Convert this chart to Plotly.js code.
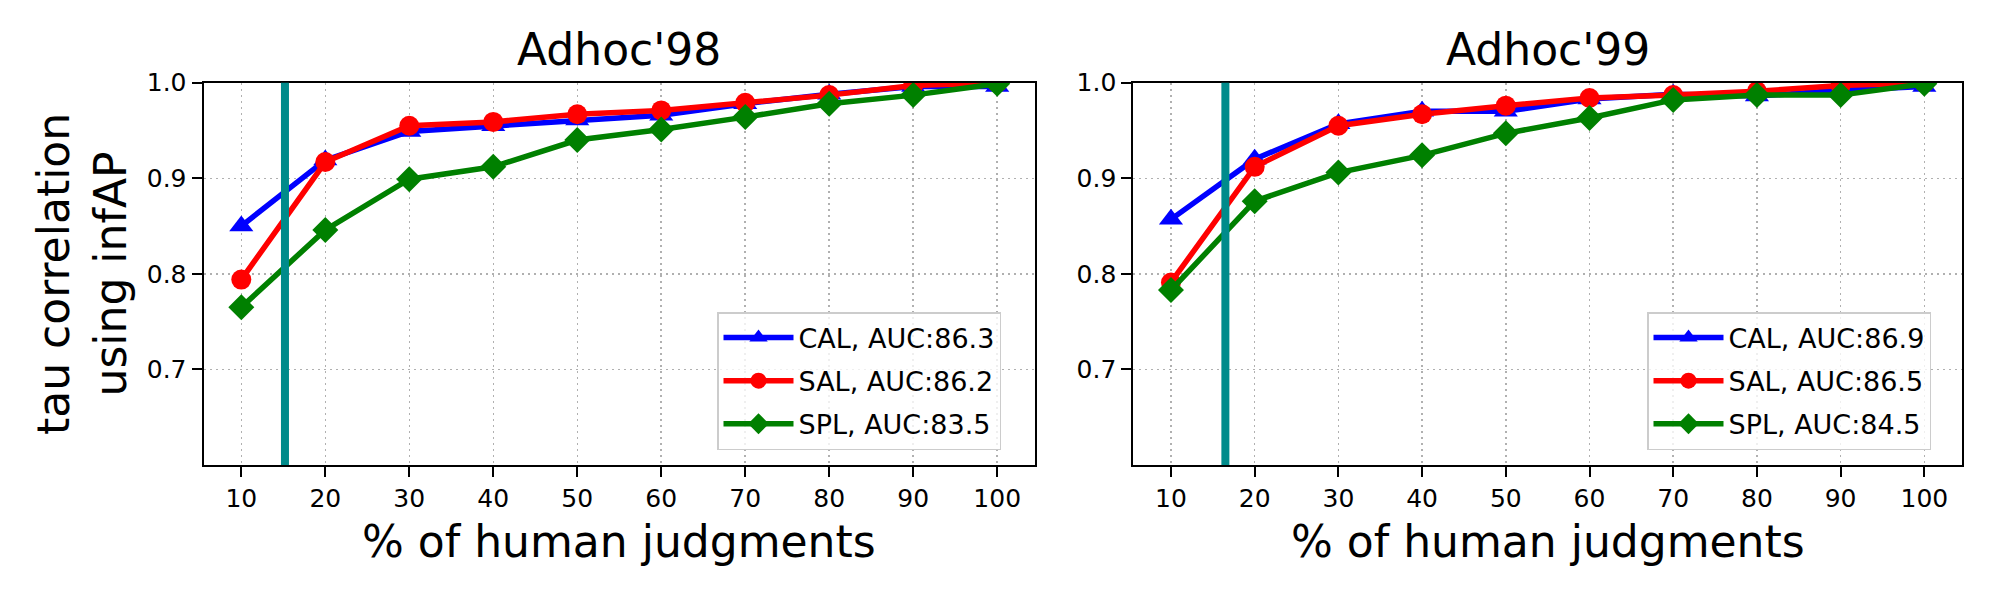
<!DOCTYPE html>
<html>
<head>
<meta charset="utf-8">
<script src="https://cdn.plot.ly/plotly-3.0.1.min.js"></script>
<style>
  html, body { margin: 0; padding: 0; background: #ffffff; }
  #chart { width: 2000px; height: 600px; }
</style>
</head>
<body>
<div id="chart"></div>
<script>
// % of human judgments
var pct = [10, 20, 30, 40, 50, 60, 70, 80, 90, 100];

// Adhoc'98
var cal98 = [0.850, 0.919, 0.949, 0.955, 0.961, 0.966, 0.978, 0.988, 0.996, 0.996];
var sal98 = [0.794, 0.917, 0.955, 0.959, 0.967, 0.971, 0.979, 0.987, 0.997, 1.000];
var spl98 = [0.765, 0.846, 0.899, 0.912, 0.940, 0.951, 0.964, 0.978, 0.987, 0.999];

// Adhoc'99
var cal99 = [0.857, 0.920, 0.957, 0.970, 0.970, 0.983, 0.988, 0.986, 0.992, 0.996];
var sal99 = [0.791, 0.912, 0.955, 0.967, 0.976, 0.984, 0.987, 0.991, 0.997, 1.000];
var spl99 = [0.783, 0.876, 0.906, 0.924, 0.947, 0.963, 0.982, 0.987, 0.987, 0.999];

var names98 = ['CAL, AUC:86.3', 'SAL, AUC:86.2', 'SPL, AUC:83.5'];
var names99 = ['CAL, AUC:86.9', 'SAL, AUC:86.5', 'SPL, AUC:84.5'];
var panelTitles = ["Adhoc'98", "Adhoc'99"];
var cutoffs = [15.2, 16.5];

var FONT = 'DejaVu Sans';
var colors = ['#0000ff', '#ff0000', '#008000'];
var symbols = ['triangle-up', 'circle', 'diamond'];
var sizes = [21, 20, 20];

function series(y, i, name, xa, ya, leg) {
  return {
    x: pct, y: y, name: name,
    xaxis: xa, yaxis: ya, legend: leg, legendgroup: leg + i,
    mode: 'lines+markers',
    line: { color: colors[i], width: 5.5 },
    marker: { symbol: symbols[i], size: sizes[i], color: colors[i] }
  };
}

var data = [
  series(cal98, 0, names98[0], 'x', 'y', 'legend'),
  series(sal98, 1, names98[1], 'x', 'y', 'legend'),
  series(spl98, 2, names98[2], 'x', 'y', 'legend'),
  series(cal99, 0, names99[0], 'x2', 'y2', 'legend2'),
  series(sal99, 1, names99[1], 'x2', 'y2', 'legend2'),
  series(spl99, 2, names99[2], 'x2', 'y2', 'legend2')
];

function xAxis(domain, anchor) {
  return {
    domain: domain, anchor: anchor, range: [5.5, 104.5],
    tickvals: pct, ticks: 'outside', ticklen: 10, tickwidth: 2, tickcolor: '#000',
    showline: true, linecolor: '#000', linewidth: 2, mirror: true,
    showgrid: true, gridcolor: '#b0b0b0', gridwidth: 1.5, griddash: '2px,4px',
    zeroline: false,
    tickfont: { family: FONT, size: 25, color: '#000' }
  };
}
function yAxis(domain, anchor) {
  return {
    domain: domain, anchor: anchor, range: [0.6, 1.0],
    tickvals: [0.7, 0.8, 0.9, 1.0], tickformat: '.1f',
    ticks: 'outside', ticklen: 10, tickwidth: 2, tickcolor: '#000',
    showline: true, linecolor: '#000', linewidth: 2, mirror: true,
    showgrid: true, gridcolor: '#b0b0b0', gridwidth: 1.5, griddash: '2px,4px',
    zeroline: false,
    tickfont: { family: FONT, size: 25, color: '#000' }
  };
}
function legendBox(xr) {
  return {
    x: xr, y: 0.25, xanchor: 'right', yanchor: 'bottom',
    bgcolor: 'rgba(255,255,255,0.8)', bordercolor: '#cccccc', borderwidth: 1.5,
    font: { family: FONT, size: 27, color: '#000' },
    itemwidth: 70, tracegroupgap: 5
  };
}

var dom1 = [203.5 / 2000, 1035 / 2000];
var dom2 = [1133.3 / 2000, 1962 / 2000];
var ydom = [135 / 600, 517.3 / 600];

function label(text, x, y, size, angle) {
  return {
    text: text, x: x, y: y, xref: 'paper', yref: 'paper',
    xanchor: 'center', yanchor: 'middle', showarrow: false,
    textangle: angle || 0,
    font: { family: FONT, size: size, color: '#000' }
  };
}

var layout = {
  width: 2000, height: 600,
  margin: { l: 0, r: 0, t: 0, b: 0 },
  paper_bgcolor: '#ffffff', plot_bgcolor: '#ffffff',
  showlegend: true,
  xaxis: xAxis(dom1, 'y'),
  yaxis: yAxis(ydom, 'x'),
  xaxis2: xAxis(dom2, 'y2'),
  yaxis2: yAxis(ydom, 'x2'),
  legend: legendBox(1001 / 2000),
  legend2: legendBox(1931 / 2000),
  shapes: cutoffs.map(function (c, i) {
    return {
      type: 'line', xref: i === 0 ? 'x' : 'x2', yref: i === 0 ? 'y domain' : 'y2 domain',
      x0: c, x1: c, y0: 0, y1: 1, layer: 'above',
      line: { color: '#008b8b', width: 8 }
    };
  }),
  annotations: [
    label(panelTitles[0], (dom1[0] + dom1[1]) / 2, 0.917, 44),
    label(panelTitles[1], (dom2[0] + dom2[1]) / 2, 0.917, 44),
    label('% of human judgments', (dom1[0] + dom1[1]) / 2, 0.0975, 44),
    label('% of human judgments', (dom2[0] + dom2[1]) / 2, 0.0975, 44),
    label('tau correlation<br>using infAP', 0.041, 0.5433, 44, -90)
  ]
};

Plotly.newPlot('chart', data, layout, { displayModeBar: false, staticPlot: true });
</script>
</body>
</html>
